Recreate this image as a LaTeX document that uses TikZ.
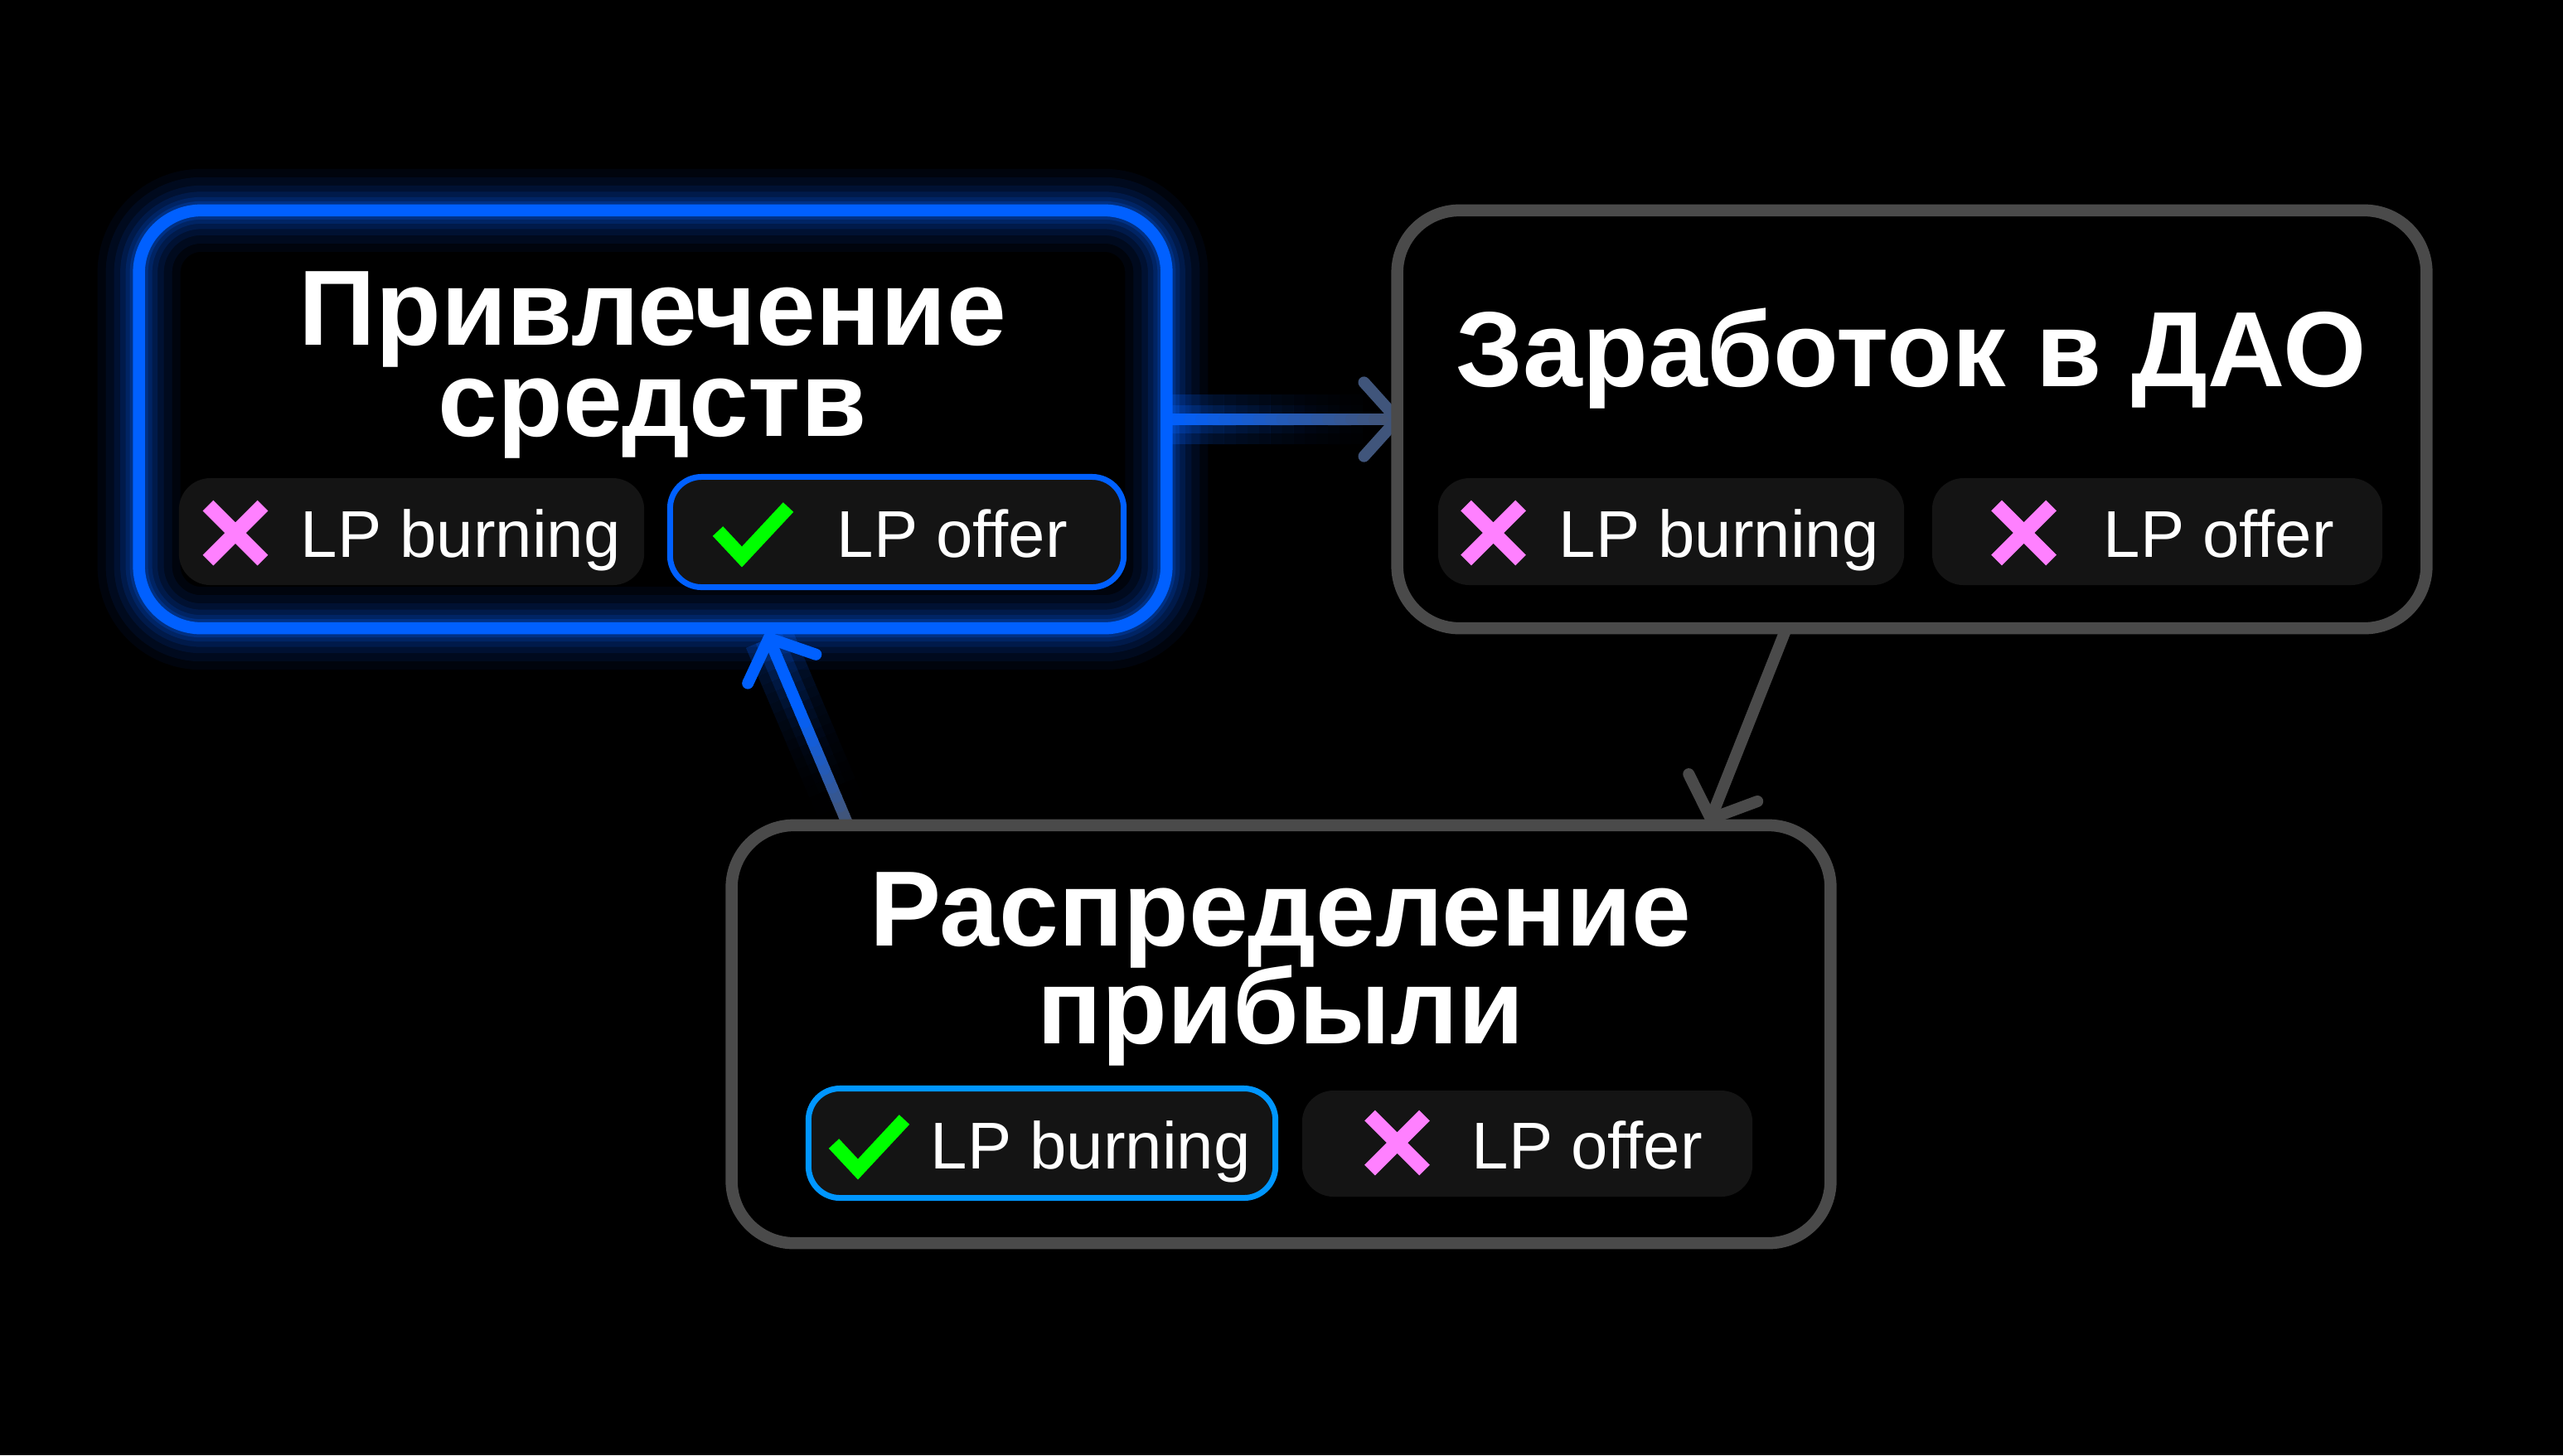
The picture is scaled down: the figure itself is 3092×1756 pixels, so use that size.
\documentclass[tikz,border=0pt]{standalone}
\usepackage{fontspec}
\setmainfont{Liberation Sans}
\usetikzlibrary{calc}
\definecolor{blu}{HTML}{0060FF}
\definecolor{azu}{HTML}{0096FF}
\definecolor{gry}{HTML}{4A4A4A}
\definecolor{pillc}{HTML}{141414}
\definecolor{pnk}{HTML}{FF80FF}
\definecolor{grn}{HTML}{00FF00}
\definecolor{arrend}{RGB}{70,84,112}
\pgfdeclarelayer{bg}
\pgfdeclarelayer{arr}
\pgfsetlayers{bg,arr,main}
\newcommand{\twolines}[3]{\vtop{\baselineskip=#3\lineskiplimit=-100pt\halign{\hfil##\hfil\cr #1\cr #2\cr}}}
\tikzset{
  box/.style={draw, line width=0.145cm, rounded corners=0.75cm, inner sep=0pt, outer sep=0pt},
  pill/.style={fill=pillc, rounded corners=0.38cm, inner sep=0pt, outer sep=0pt},
  ttl/.style={text=white, font=\fontsize{36.7pt}{44pt}\selectfont\bfseries, anchor=base, inner sep=0pt},
  lbl/.style={text=white, font=\fontsize{22.7pt}{27pt}\selectfont, anchor=base west, inner sep=0pt},
  conn/.style={line width=0.14cm, line cap=round, line join=round},
  cross/.pic={\draw[pnk, line width=0.18cm] (-33,-33)--(33,33) (-33,33)--(33,-33);},
  tick/.pic={\draw[grn, line width=0.17cm, miter limit=10] (-42,-4)--(-13,27)--(43,-33);},
}
\begin{document}
\begin{tikzpicture}[x=0.01cm, y=-0.01cm]
\useasboundingbox (0,0) rectangle (3092,1756);
% boxes
\node[box, draw=blu, minimum width=12.39cm, minimum height=5.04cm] (b1) at (787.5,506) {};
\node[box, draw=gry, minimum width=12.41cm, minimum height=5.04cm] (b2) at (2306.5,506) {};
\node[box, draw=gry, minimum width=13.25cm, minimum height=5.04cm] (b3) at (1545.5,1248) {};
% titles
\node[ttl] (t1) at (787,416) {\twolines{Привлечение}{средств}{1.10cm}};
\node[ttl] (t2) at (2306,466) {Заработок в ДАО};
\node[ttl] (t3) at (1545,1141) {\twolines{Распределение}{прибыли}{1.18cm}};
% pills
\node[pill, minimum width=5.61cm, minimum height=1.29cm] (p1a) at (496.5,641.5) {};
\node[pill, draw=blu, line width=0.07cm, minimum width=5.47cm, minimum height=1.33cm] (p1b) at (1082,642) {};
\node[pill, minimum width=5.62cm, minimum height=1.29cm] (p2a) at (2016,641.5) {};
\node[pill, minimum width=5.43cm, minimum height=1.29cm] (p2b) at (2602.5,641.5) {};
\node[pill, draw=azu, line width=0.07cm, minimum width=5.63cm, minimum height=1.32cm] (p3a) at (1257,1379.5) {};
\node[pill, minimum width=5.43cm, minimum height=1.28cm] (p3b) at (1842.5,1380) {};
% icons
\pic at (284,643) {cross};
\pic at (908,645) {tick};
\pic at (1801.5,643) {cross};
\pic at (2441.5,643) {cross};
\pic at (1048,1384) {tick};
\pic at (1685.5,1379) {cross};
% labels
\node[lbl] (l1a) at (362,672) {LP burning};
\node[lbl] (l1b) at (1009,672) {LP offer};
\node[lbl] (l2a) at (1880,672) {LP burning};
\node[lbl] (l2b) at (2537,672) {LP offer};
\node[lbl] (l3a) at (1122,1410) {LP burning};
\node[lbl] (l3b) at (1775,1410) {LP offer};
% connector end points
\coordinate (a1s) at (b1.east);
\coordinate (a1e) at (b2.west);
\coordinate (a2s) at ($(b2.south west)!0.378!(b2.south east)$);
\coordinate (a2e) at ($(b3.north west)!0.891!(b3.north east)+(0,-8)$);
\coordinate (a3s) at ($(b3.north west)!0.106!(b3.north east)$);
\coordinate (a3e) at ($(b1.south west)!0.613!(b1.south east)+(0,12)$);
% background and glow
\begin{pgfonlayer}{bg}
\fill[black] (0,0) rectangle (3092,1756);
\foreach \w/\o in {1.0cm/0.05, 0.8cm/0.07, 0.6cm/0.09, 0.45cm/0.12, 0.32cm/0.15, 0.22cm/0.2}
  \draw[blu, line width=\w, opacity=\o, rounded corners=0.75cm] (b1.south west) rectangle (b1.north east);
\foreach \k in {0,...,19}{
  \pgfmathsetmacro\ta{\k/20}
  \pgfmathsetmacro\tb{(\k+1)/20}
  \pgfmathsetmacro\oa{0.25*(1-\k/20)^2}
  \pgfmathsetmacro\ob{0.25*(\k/20)^2}
  \draw[blu, line width=0.6cm, opacity=\oa] ($(a1s)!\ta!(a1e)$) -- ($(a1s)!\tb!(a1e)$);
  \draw[blu, line width=0.34cm, opacity=\oa] ($(a1s)!\ta!(a1e)$) -- ($(a1s)!\tb!(a1e)$);
  \draw[blu, line width=0.6cm, opacity=\ob] ($(a3s)!\ta!(a3e)$) -- ($(a3s)!\tb!(a3e)$);
  \draw[blu, line width=0.34cm, opacity=\ob] ($(a3s)!\ta!(a3e)$) -- ($(a3s)!\tb!(a3e)$);
}
\end{pgfonlayer}
% connectors
\begin{pgfonlayer}{arr}
\foreach \k in {0,...,19}{
  \pgfmathsetmacro\ta{\k/20}
  \pgfmathsetmacro\tb{(\k+1)/20}
  \pgfmathsetmacro\pa{100-5*\k}
  \pgfmathsetmacro\pb{min(100,8*\k)}
  \draw[conn, color=blu!\pa!arrend] ($(a1s)!\ta!(a1e)$) -- ($(a1s)!\tb!(a1e)$);
  \draw[conn, color=blu!\pb!arrend] ($(a3s)!\ta!(a3e)$) -- ($(a3s)!\tb!(a3e)$);
}
\draw[conn, color=blu!8!arrend] ($(a1e)!0.6cm!48:(a1s)$) -- (a1e) -- ($(a1e)!0.6cm!-48:(a1s)$);
\draw[conn, gry] (a2s) -- (a2e);
\draw[conn, gry] ($(a2e)!0.6cm!48:(a2s)$) -- (a2e) -- ($(a2e)!0.6cm!-48:(a2s)$);
\draw[conn, blu] ($(a3e)!0.6cm!48:(a3s)$) -- (a3e) -- ($(a3e)!0.6cm!-48:(a3s)$);
\end{pgfonlayer}
\end{tikzpicture}
\end{document}
